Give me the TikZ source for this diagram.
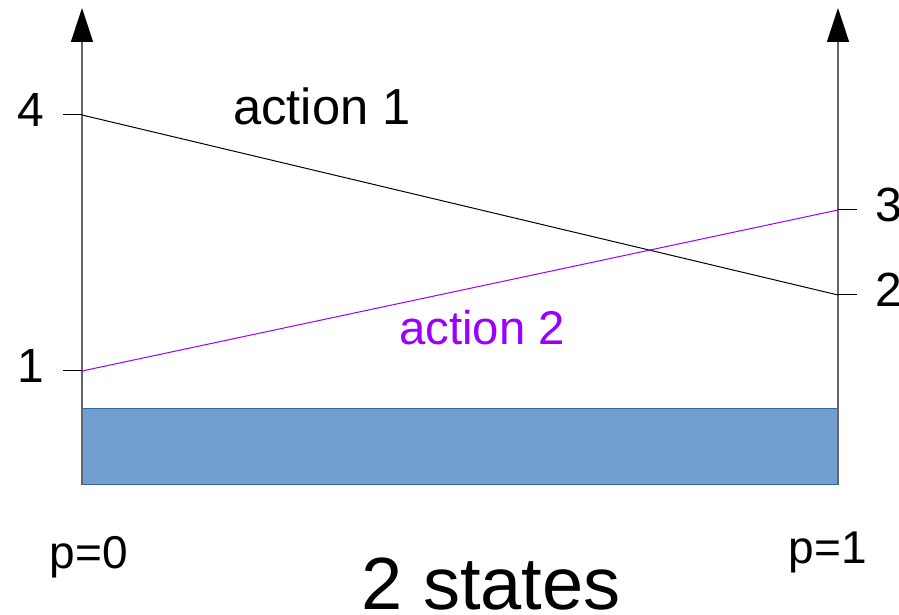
\documentclass[tikz,border=0pt]{standalone}
\usepackage{fontspec}
\setmainfont{Liberation Sans}
\usepackage{xcolor}
\usetikzlibrary{arrows.meta}
\definecolor{barblue}{HTML}{729FCF}
\definecolor{barline}{HTML}{3465A4}
\definecolor{actviolet}{HTML}{9900FF}
\definecolor{axisgray}{HTML}{666666}
\tikzset{
  axis/.style={axisgray,line width=1.1pt,-{Triangle[length=25.5pt,width=16.5pt,black]}},
  tick/.style={black,line width=0.75pt},
  val/.style={font=\fontsize{36}{40}\selectfont,anchor=base},
  plabel/.style={font=\fontsize{34.5}{38}\selectfont,anchor=base},
}

\begin{document}
\begin{tikzpicture}[x=0.75pt,y=0.75pt]
\useasboundingbox (0,0) rectangle (899,614);
% shaded strip under the two axes
\draw[barline,line width=0.75pt,fill=barblue] (82,129) rectangle (838,205);
% axes at p=0 and p=1
\coordinate (l0) at (82,129);
\coordinate (ltop) at (82,606);
\coordinate (r0) at (838,129);
\coordinate (rtop) at (838,606);
\draw[axis] (l0) -- (ltop);
\draw[axis] (r0) -- (rtop);
% values on the axes
\coordinate (l4) at (82,499);
\coordinate (l1) at (82,243);
\coordinate (r3) at (838,404);
\coordinate (r2) at (838,319);
\draw[tick] (l4) -- ++(-19,0);
\draw[tick] (l1) -- ++(-19,0);
\draw[tick] (r3) -- ++(19,0);
\draw[tick] (r2) -- ++(19,0);
\node[val] (v4) at (31,487) {4};
\node[val] (v1) at (31,231) {1};
\node[val] (v3) at (889,392) {3};
\node[val] (v2) at (889,307) {2};
% the two actions
\draw[black,line width=0.75pt] (l4) -- (r2);
\draw[actviolet,line width=0.75pt] (l1) -- (r3);
\node[anchor=base,font=\fontsize{38}{42}\selectfont] (a1) at (322,489) {action 1};
\node[anchor=base,font=\fontsize{35.5}{39}\selectfont,text=actviolet] (a2) at (482,269) {action 2};
% belief and title
\node[plabel] (p0) at (89,46) {p=0};
\node[plabel] (p1) at (828,51) {p=1};
\node[anchor=base,font=\fontsize{55.5}{60}\selectfont] (title) at (491,5) {2 states};
\end{tikzpicture}
\end{document}
